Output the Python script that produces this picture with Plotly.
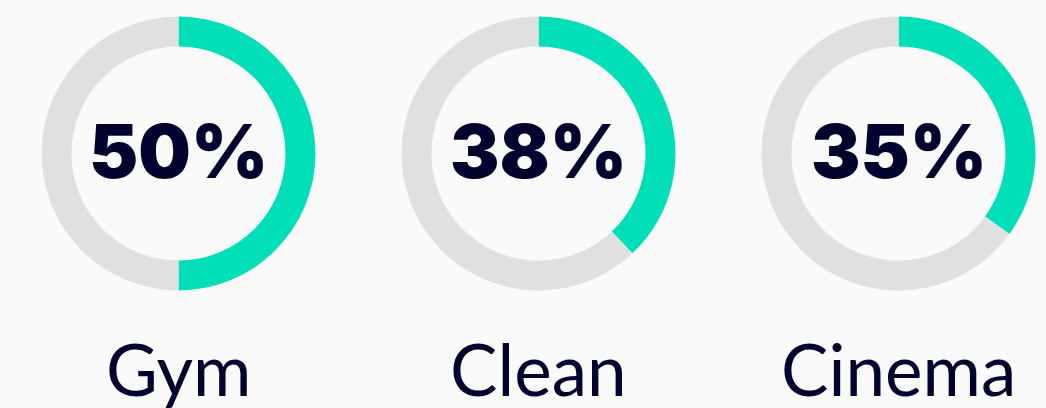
import plotly.graph_objects as go

categories = ["Gym", "Clean", "Cinema"]
percent_values = [50, 38, 35]
value_labels = ["50%", "38%", "35%"]

teal = "#00DFB8"
grey = "#E0E0E0"
ink = "#02022E"
bg = "#FAFAFA"

W, H = 1046, 408
centers_x = [178.5, 538.5, 898.5]
center_y = 153.5
radius = 137

fig = go.Figure()
for i, (cat, val) in enumerate(zip(categories, percent_values)):
    cx = centers_x[i]
    fig.add_trace(go.Pie(
        values=[val, 100 - val],
        labels=[cat + " yes", cat + " rest"],
        marker=dict(colors=[teal, grey], line=dict(width=0)),
        hole=107 / 137,
        sort=False,
        direction="clockwise",
        rotation=0,
        textinfo="none",
        hoverinfo="skip",
        showlegend=False,
        domain=dict(x=[(cx - radius) / W, (cx + radius) / W],
                    y=[(H - center_y - radius) / H, (H - center_y + radius) / H]),
    ))
    fig.add_annotation(
        x=cx / W, y=(H - 151) / H, xref="paper", yref="paper",
        text=value_labels[i], showarrow=False,
        font=dict(family="Inter", size=74, color=ink, weight=900),
        xanchor="center", yanchor="middle",
    )
    fig.add_annotation(
        x=cx / W, y=(H - 368) / H, xref="paper", yref="paper",
        text=cat, showarrow=False,
        font=dict(family="Lato", size=71, color=ink),
        xanchor="center", yanchor="middle",
    )

fig.update_layout(
    width=W, height=H,
    margin=dict(l=0, r=0, t=0, b=0),
    paper_bgcolor=bg, plot_bgcolor=bg,
)
fig.write_html(
    "out.html",
    config={"displayModeBar": False},
    post_script="document.body.style.margin='0';document.body.style.background='#FAFAFA';",
)
